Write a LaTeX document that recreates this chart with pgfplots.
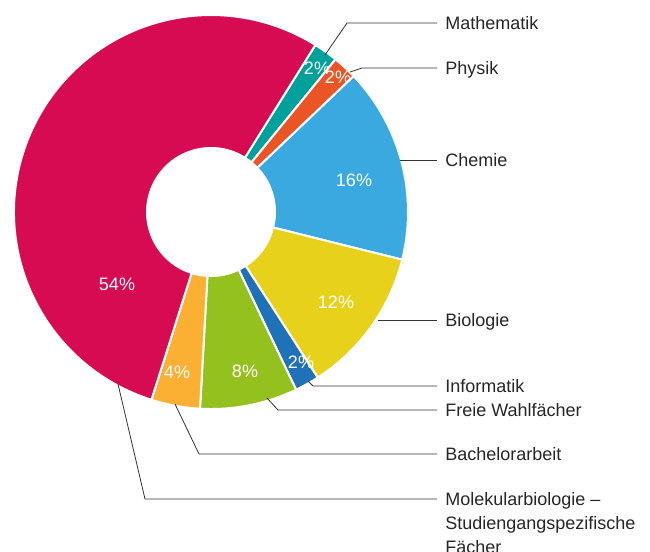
\documentclass[border=0pt]{standalone}
\usepackage{pgfplots}
\usepackage{pgfplotstable}
\pgfplotsset{compat=1.18}
\usetikzlibrary{calc}
\usepackage{fontspec}
\setmainfont{Liberation Sans}

% slice colours, clockwise from the top
\definecolor{col0}{HTML}{00A19A}
\definecolor{col1}{HTML}{EB5424}
\definecolor{col2}{HTML}{39A9E0}
\definecolor{col3}{HTML}{E8D11B}
\definecolor{col4}{HTML}{1F71B8}
\definecolor{col5}{HTML}{95C11F}
\definecolor{col6}{HTML}{FBB034}
\definecolor{col7}{HTML}{D60B51}

% share in percent, position of the percent label (picture pixels)
\pgfplotstableread{
name        pct lx  ly
Mathematik  2   317 68
Physik      2   338 77
Chemie      16  354 180
Biologie    12  336 302
Informatik  2   301 362
Freie       8   245 371
Bachelor    4   177 372
Molekular   54  117 284
}\slices

\def\startang{58}
\def\Rout{147.75pt}
\def\Rin{48pt}

\begin{document}
\begin{tikzpicture}
% cumulative angles
\gdef\cum{0}
\pgfplotsforeachungrouped \i in {0,...,7}{%
  \pgfplotstablegetelem{\i}{pct}\of\slices
  \pgfmathsetmacro\aone{\startang-3.6*\cum}
  \pgfmathsetmacro\newcum{\cum+\pgfplotsretval}
  \xdef\cum{\newcum}
  \pgfmathsetmacro\atwo{\startang-3.6*\cum}
  \expandafter\xdef\csname aone\i\endcsname{\aone}
  \expandafter\xdef\csname atwo\i\endcsname{\atwo}
  \expandafter\xdef\csname pc\i\endcsname{\pgfplotsretval}
  \pgfplotstablegetelem{\i}{lx}\of\slices
  \expandafter\xdef\csname lx\i\endcsname{\pgfplotsretval}
  \pgfplotstablegetelem{\i}{ly}\of\slices
  \expandafter\xdef\csname ly\i\endcsname{\pgfplotsretval}
}
\begin{axis}[
    x=0.75pt, y=0.75pt,
    xmin=0, xmax=650, ymin=0, ymax=551,
    y dir=reverse,
    scale only axis,
    hide axis,
    clip=false,
    anchor=origin,
]
\coordinate (bl) at (axis cs:0,551);
\coordinate (tr) at (axis cs:650,0);
\coordinate (c) at (axis cs:211,212);

\pgfplotsinvokeforeach{0,...,7}{%
  \fill[col#1, draw=white, line width=1.5pt]
    ($(c)+(\csname aone#1\endcsname:\Rout)$)
    arc[start angle=\csname aone#1\endcsname, end angle=\csname atwo#1\endcsname, radius=\Rout]
    -- ($(c)+(\csname atwo#1\endcsname:\Rin)$)
    arc[start angle=\csname atwo#1\endcsname, end angle=\csname aone#1\endcsname, radius=\Rin]
    -- cycle;
  \node[text=white, font=\fontsize{13.5}{16}\selectfont]
    at (axis cs:\csname lx#1\endcsname,\csname ly#1\endcsname) {\csname pc#1\endcsname\%};
}

% leader lines
\begin{scope}[black!80, line width=0.6pt]
\draw (axis cs:325,55) -- (axis cs:347,23) -- (axis cs:437,23);
\draw (axis cs:350,72) -- (axis cs:362,68) -- (axis cs:437,68);
\draw (axis cs:400,160) -- (axis cs:437,160);
\draw (axis cs:378,320) -- (axis cs:437,320);
\draw (axis cs:308,381) -- (axis cs:313,386) -- (axis cs:437,386);
\draw (axis cs:267,398) -- (axis cs:278,410) -- (axis cs:437,410);
\draw (axis cs:175,404) -- (axis cs:199,454) -- (axis cs:437,454);
\draw (axis cs:118,384) -- (axis cs:145,499) -- (axis cs:437,499);
\end{scope}

% category names
\begin{scope}[every node/.style={anchor=base west, inner sep=0pt, text=black!85,
    font=\fontsize{13.5}{16}\selectfont}]
\node at (axis cs:445,29.5) {Mathematik};
\node at (axis cs:445,74.5) {Physik};
\node at (axis cs:445,166.5) {Chemie};
\node at (axis cs:445,326.5) {Biologie};
\node at (axis cs:445,392.5) {Informatik};
\node at (axis cs:445,416.5) {Freie Wahlfächer};
\node at (axis cs:445,460.5) {Bachelorarbeit};
\node at (axis cs:445,505.5) {Molekularbiologie –};
\node at (axis cs:445,529.5) {Studiengangspezifische};
\node at (axis cs:445,553.5) {Fächer};
\end{scope}
\end{axis}
\pgfresetboundingbox
\path[use as bounding box] (bl) rectangle (tr);
\end{tikzpicture}
\end{document}
